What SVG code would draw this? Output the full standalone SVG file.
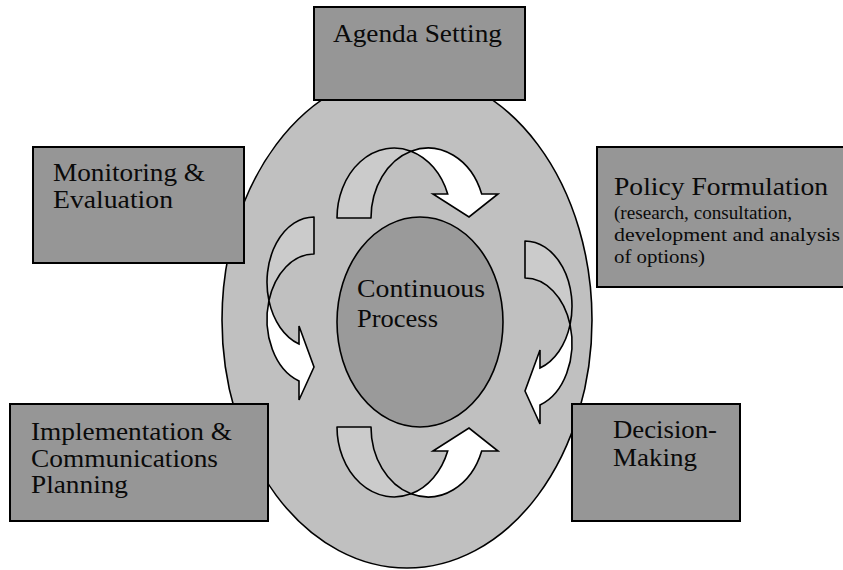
<svg xmlns="http://www.w3.org/2000/svg" width="843" height="570" viewBox="0 0 843 570">
<style>
.box{fill:#969696;stroke:#000;stroke-width:2}
.lbl{font-family:"Liberation Serif","Times New Roman",serif;font-size:25px;fill:#0a0a0a}
.sub{font-family:"Liberation Serif","Times New Roman",serif;font-size:19.5px;fill:#0a0a0a}
.tail{fill:#cbcbcb;stroke:#000;stroke-width:1.6;stroke-linejoin:round}
.head{fill:#fff;stroke:#000;stroke-width:1.6;stroke-linejoin:miter}
</style>
<rect width="843" height="570" fill="#fff"/>
<g id="cycle">
<ellipse cx="407" cy="320" rx="185" ry="248" fill="#c0c0c0" stroke="#000" stroke-width="1.6"/>
</g>
<g id="connectors">
<path class="tail" d="M337,218 A57.2,70 0 0 1 411,151.16 A57.2,70 0 0 0 371,218 Z"/>
<path class="head" d="M411,151.16 A57.2,70 0 0 1 481.7,194 L498,194 L469,217 L433,194 L447.7,194 A57.2,70 0 0 0 411,151.16 Z"/>
<path class="tail" d="M337,427 A57.2,70 0 0 0 411,493.84 A57.2,70 0 0 1 371,427 Z"/>
<path class="head" d="M411,493.84 A57.2,70 0 0 0 481.7,451 L498,451 L469,428 L433,451 L447.7,451 A57.2,70 0 0 1 411,493.84 Z"/>
<path class="tail" d="M314,217 A47,65.2 0 0 0 268.93,300.7 A47,65.2 0 0 1 314,254 Z"/>
<path class="head" d="M268.93,300.7 A47,65.2 0 0 0 299,380.99 L299,400 L314,367 L299,326 L299,344 A47,65.2 0 0 1 268.93,300.7 Z"/>
<path class="tail" d="M525,241 A47,65.2 0 0 1 570.07,324.7 A47,65.2 0 0 0 525,278 Z"/>
<path class="head" d="M570.07,324.7 A47,65.2 0 0 1 540,404.99 L540,424 L525,391 L540,350 L540,367.99 A47,65.2 0 0 0 570.07,324.7 Z"/>
</g>
<g id="center">
<ellipse cx="420" cy="322" rx="83" ry="105" fill="#9a9a9a" stroke="#000" stroke-width="1.6"/>
<text class="lbl" x="357" y="297" textLength="128" lengthAdjust="spacingAndGlyphs">Continuous</text>
<text class="lbl" x="357" y="327" textLength="81" lengthAdjust="spacingAndGlyphs">Process</text>
</g>
<g id="agenda">
<rect class="box" x="314" y="7" width="211" height="93"/>
<text class="lbl" x="333" y="42" textLength="169" lengthAdjust="spacingAndGlyphs">Agenda Setting</text>
</g>
<g id="monitoring">
<rect class="box" x="33" y="147" width="211" height="116"/>
<text class="lbl" x="53" y="181" textLength="152" lengthAdjust="spacingAndGlyphs">Monitoring &amp;</text>
<text class="lbl" x="53" y="208" textLength="120" lengthAdjust="spacingAndGlyphs">Evaluation</text>
</g>
<g id="policy">
<rect class="box" x="597" y="147" width="260" height="140"/>
<text class="lbl" x="614" y="195" textLength="214" lengthAdjust="spacingAndGlyphs">Policy Formulation</text>
<text class="sub" x="614" y="219" textLength="178" lengthAdjust="spacingAndGlyphs">(research, consultation,</text>
<text class="sub" x="614" y="241" textLength="226" lengthAdjust="spacingAndGlyphs">development and analysis</text>
<text class="sub" x="614" y="263" textLength="91" lengthAdjust="spacingAndGlyphs">of options)</text>
</g>
<g id="decision">
<rect class="box" x="572" y="404" width="168" height="117"/>
<text class="lbl" x="613" y="438" textLength="104" lengthAdjust="spacingAndGlyphs">Decision-</text>
<text class="lbl" x="613" y="466" textLength="84" lengthAdjust="spacingAndGlyphs">Making</text>
</g>
<g id="implementation">
<rect class="box" x="10" y="404" width="258" height="117"/>
<text class="lbl" x="31" y="440" textLength="201" lengthAdjust="spacingAndGlyphs">Implementation &amp;</text>
<text class="lbl" x="31" y="467" textLength="187" lengthAdjust="spacingAndGlyphs">Communications</text>
<text class="lbl" x="31" y="493" textLength="97" lengthAdjust="spacingAndGlyphs">Planning</text>
</g>
</svg>
